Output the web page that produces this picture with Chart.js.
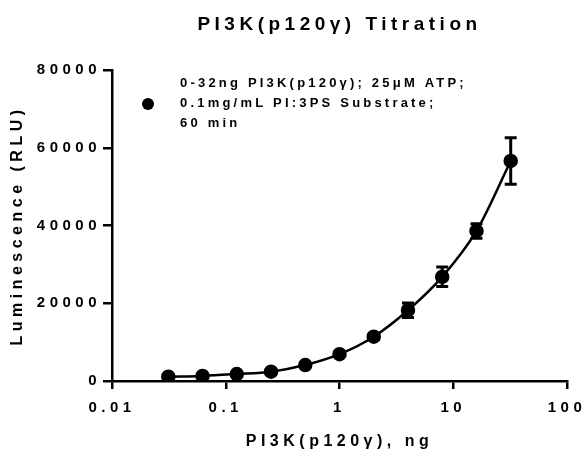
<!DOCTYPE html>
<html>
<head>
<meta charset="utf-8">
<script src="https://cdn.jsdelivr.net/npm/chart.js@4/dist/chart.umd.min.js"></script>
<style>
  html, body { margin: 0; padding: 0; background: #fff; }
  #wrap { width: 584px; height: 454px; }
</style>
</head>
<body>
<div id="wrap"><canvas id="chart" width="584" height="454"></canvas></div>
<script>
// ── Data ────────────────────────────────────────────────────────────────
const enzymeNg   = [0.03125, 0.0625, 0.125, 0.25, 0.5, 1, 2, 4, 8, 16, 32];
const meanRLU    = [1100, 1300, 1800, 2400, 4100, 6900, 11400, 18200, 26800, 38600, 56600];
const semRLU     = [150, 150, 200, 250, 300, 400, 600, 1850, 2500, 1850, 6000];
const xTickVals  = [0.01, 0.1, 1, 10, 100];
const legendLines = ['0-32ng PI3K(p120γ); 25μM ATP;', '0.1mg/mL PI:3PS Substrate;', '60 min'];

const FONT = "'Liberation Sans', Arial, sans-serif";
const INK = '#000';

// wide glyph spacing like the Prism export
const spacingPlugin = {
  id: 'spacing',
  beforeUpdate(chart) { chart.ctx.letterSpacing = '4.5px'; },
  beforeDraw(chart) { chart.ctx.letterSpacing = '4.5px'; },
};

// error bars from the data arrays, through the scales
const errorBars = {
  id: 'errorBars',
  afterDatasetsDraw(chart) {
    const { ctx, scales: { x, y } } = chart;
    ctx.save();
    ctx.strokeStyle = INK;
    ctx.lineWidth = 3;
    enzymeNg.forEach((v, i) => {
      const px = x.getPixelForValue(v);
      const top = y.getPixelForValue(meanRLU[i] + semRLU[i]);
      const bot = y.getPixelForValue(meanRLU[i] - semRLU[i]);
      ctx.beginPath();
      ctx.moveTo(px, top); ctx.lineTo(px, bot);
      ctx.moveTo(px - 6, top); ctx.lineTo(px + 6, top);
      ctx.moveTo(px - 6, bot); ctx.lineTo(px + 6, bot);
      ctx.stroke();
    });
    ctx.restore();
  },
};

// legend: dot + three lines of text
const legendBox = {
  id: 'legendBox',
  afterDraw(chart) {
    const { ctx } = chart;
    ctx.save();
    ctx.fillStyle = INK;
    ctx.beginPath();
    ctx.arc(148, 104, 6, 0, Math.PI * 2);
    ctx.fill();
    ctx.letterSpacing = '3.2px';
    ctx.font = `bold 13px ${FONT}`;
    ctx.textAlign = 'left';
    ctx.textBaseline = 'middle';
    legendLines.forEach((t, i) => ctx.fillText(t, 180, 83 + i * 20));
    ctx.restore();
  },
};

new Chart(document.getElementById('chart'), {
  type: 'scatter',
  data: {
    datasets: [{
      data: enzymeNg.map((v, i) => ({ x: v, y: meanRLU[i] })),
      showLine: true,
      borderColor: INK,
      borderWidth: 2.5,
      backgroundColor: INK,
      pointRadius: 6,
      pointHoverRadius: 6,
      cubicInterpolationMode: 'monotone',
    }],
  },
  options: {
    responsive: false,
    animation: false,
    devicePixelRatio: 1,
    layout: { padding: { left: 0, right: 17, top: 0, bottom: 0 } },
    plugins: {
      legend: { display: false },
      tooltip: { enabled: false },
      title: {
        display: true,
        fullSize: false,
        text: 'PI3K(p120γ) Titration',
        color: INK,
        font: { family: FONT, size: 19, weight: 'bold' },
        padding: { top: 13, bottom: 34.2 },
      },
    },
    scales: {
      x: {
        type: 'logarithmic',
        min: 0.01,
        max: 100,
        afterBuildTicks: (s) => { s.ticks = xTickVals.map(v => ({ value: v })); },
        afterFit: (s) => { s.height = 73; s.paddingLeft = 0; s.paddingRight = 0; },
        ticks: {
          color: INK,
          font: { family: FONT, size: 15, weight: 'bold' },
          padding: 10,
          maxRotation: 0,
          autoSkip: false,
          callback: (v) => String(v),
        },
        grid: { drawOnChartArea: false, drawTicks: true, tickLength: 8, color: INK, lineWidth: 2.5 },
        border: { color: INK, width: 2.5 },
        title: {
          display: true,
          text: 'PI3K(p120γ), ng',
          color: INK,
          font: { family: FONT, size: 16, weight: 'bold' },
          padding: { top: 0, bottom: 3 },
        },
      },
      y: {
        min: 0,
        max: 80000,
        afterFit: (s) => { s.width = 112; },
        ticks: {
          stepSize: 20000,
          color: INK,
          font: { family: FONT, size: 15, weight: 'bold' },
          padding: 2,
          callback: (v) => String(v),
        },
        grid: { drawOnChartArea: false, drawTicks: true, tickLength: 9, color: INK, lineWidth: 2.5 },
        border: { color: INK, width: 2.5 },
        title: {
          display: true,
          text: 'Luminescence (RLU)',
          color: INK,
          font: { family: FONT, size: 16, weight: 'bold' },
          padding: { top: 8, bottom: 0 },
        },
      },
    },
  },
  plugins: [spacingPlugin, errorBars, legendBox],
});
</script>
</body>
</html>
